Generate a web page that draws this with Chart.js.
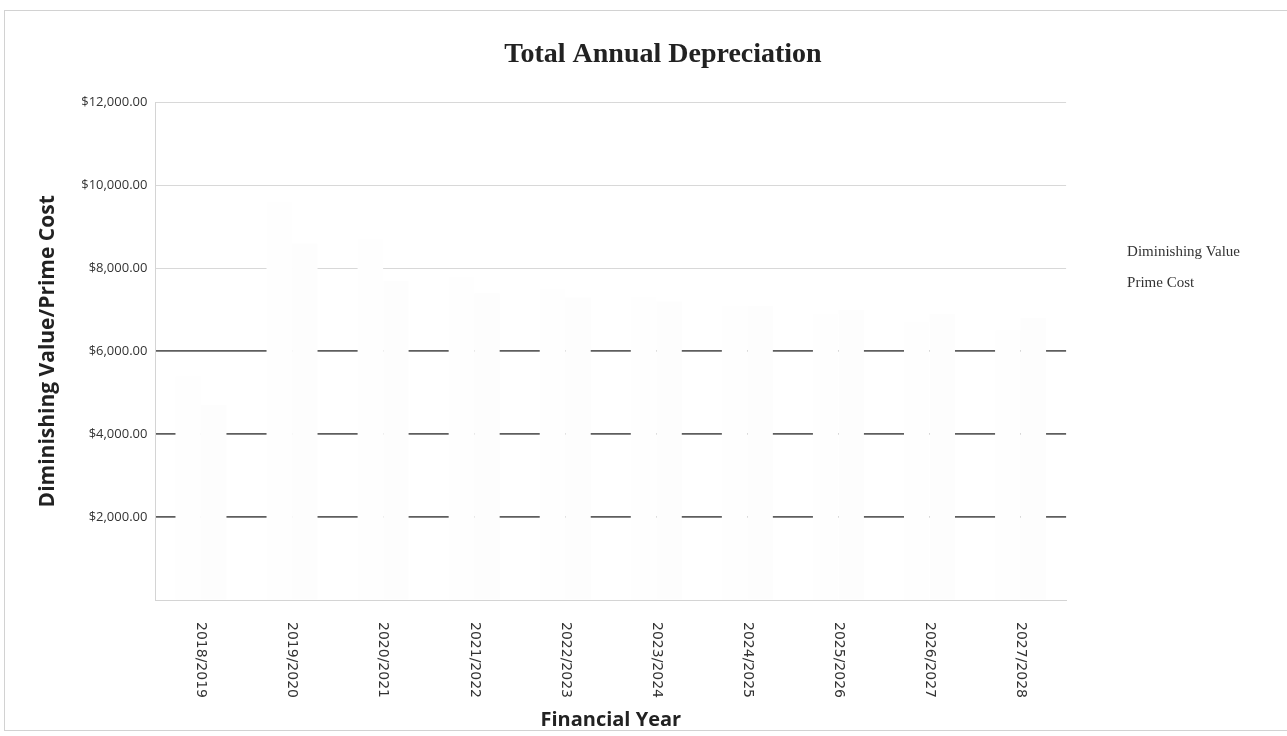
<!DOCTYPE html>
<html lang="en">
<head>
  <meta charset="UTF-8" />
  <title>Total Annual Depreciation</title>
  <script src="https://cdn.jsdelivr.net/npm/chart.js"></script>
  <style>
    body { margin: 0; background: #fff; overflow: hidden; }
    /* moldura cinza clara do grafico (sai pela direita como no scan) */
    .frame {
      position: absolute; left: 4px; top: 10px;
      width: 1330px; height: 719px;
      border: 1px solid #d2d2d2;
    }
    .chart-wrapper {
      position: absolute; left: 0; top: 0;
      width: 1327px; height: 736px;
    }
  </style>
</head>
<body>
<div class="frame"></div>
<div class="chart-wrapper">
  <canvas id="deprChart"></canvas>
</div>

<script>
  const anos = ['2018/2019', '2019/2020', '2020/2021', '2021/2022', '2022/2023',
                '2023/2024', '2024/2025', '2025/2026', '2026/2027', '2027/2028'];
  const diminishingValue = [5400, 9600, 8700, 7800, 7500, 7300, 7100, 6900, 6700, 6500];
  const primeCost = [4700, 8600, 7700, 7400, 7300, 7200, 7100, 7000, 6900, 6800];
  const yTicks = [0, 2000, 4000, 6000, 8000, 10000, 12000];

  const fmt = v => '$' + v.toLocaleString('en-US', { minimumFractionDigits: 2, maximumFractionDigits: 2 });

  // rotulos do eixo x girados no sentido horario (Chart.js so gira anti-horario)
  const rotuloHorario = {
    id: 'rotuloHorario',
    afterDraw(chart) {
      const x = chart.scales.x;
      const ctx = chart.ctx;
      ctx.save();
      ctx.fillStyle = '#333';
      ctx.font = '14px "DejaVu Sans"';
      ctx.textAlign = 'left';
      ctx.textBaseline = 'middle';
      anos.forEach((txt, i) => {
        ctx.save();
        ctx.translate(x.getPixelForTick(i), x.top + 22);
        ctx.rotate(Math.PI / 2);
        ctx.fillText(txt, 0, 0);
        ctx.restore();
      });
      ctx.restore();
    }
  };

  const dataDepr = {
    labels: anos,
    datasets: [{
      label: 'Diminishing Value',
      data: diminishingValue,
      backgroundColor: '#fefefe',
      borderWidth: 0
    }, {
      label: 'Prime Cost',
      data: primeCost,
      backgroundColor: '#fdfdfd',
      borderWidth: 0
    }]
  };

  const configDepr = {
    type: 'bar',
    data: dataDepr,
    plugins: [rotuloHorario],
    options: {
      responsive: true,
      maintainAspectRatio: false,
      animation: false,
      layout: { padding: { top: 38, left: 35, right: 36, bottom: 4 } },
      datasets: { bar: { categoryPercentage: 0.56, barPercentage: 1.0 } },
      plugins: {
        title: {
          display: true,
          text: 'Total Annual Depreciation',
          color: '#222',
          font: { family: '"Liberation Serif"', size: 28, weight: 'bold' },
          padding: { top: 0, bottom: 31 }
        },
        legend: {
          position: 'right',
          align: 'start',
          title: { display: true, text: '', padding: { top: 0, bottom: 176 } },
          labels: {
            color: '#333',
            font: { family: '"Liberation Serif"', size: 15 },
            boxWidth: 37.5,
            boxHeight: 0,
            padding: 16,
            generateLabels: chart => chart.data.datasets.map((ds, i) => ({
              text: ds.label,
              fillStyle: 'rgba(0,0,0,0)',
              strokeStyle: 'rgba(0,0,0,0)',
              lineWidth: 0,
              hidden: false,
              datasetIndex: i,
              fontColor: '#333'
            }))
          }
        },
        tooltip: { enabled: false }
      },
      scales: {
        x: {
          grid: { display: false, drawTicks: false },
          border: { display: true, color: '#d4d4d4' },
          ticks: {
            color: 'rgba(0,0,0,0)',
            font: { family: '"DejaVu Sans"', size: 14 },
            minRotation: 90,
            maxRotation: 90,
            padding: 14
          },
          title: {
            display: true,
            text: 'Financial Year',
            color: '#222',
            font: { family: '"Open Sans"', size: 20, weight: 'bold' },
            padding: { top: 4, bottom: 0 }
          }
        },
        y: {
          min: 0,
          max: 12000,
          afterBuildTicks: axis => { axis.ticks = yTicks.map(v => ({ value: v })); },
          grid: {
            drawTicks: false,
            color: c => (c.tick && c.tick.value > 0 && c.tick.value <= 6000) ? '#5e5e5e' : '#d8d8d8',
            lineWidth: c => (c.tick && c.tick.value > 0 && c.tick.value <= 6000) ? 1.8 : 1
          },
          border: { display: true, color: '#d4d4d4' },
          ticks: {
            color: '#333',
            font: { family: '"Open Sans"', size: 13 },
            padding: 8,
            callback: v => v === 0 ? '' : fmt(v)
          },
          title: {
            display: true,
            text: 'Diminishing Value/Prime Cost',
            color: '#222',
            font: { family: '"Open Sans"', size: 21, weight: 'bold' },
            padding: { top: 0, bottom: 13 }
          }
        },
        // espaco vazio a direita da legenda, so para centrar o titulo como no original
        margem: {
          position: 'right',
          weight: 1500,
          grid: { display: false, drawTicks: false },
          border: { display: false },
          ticks: { display: false },
          title: { display: true, text: '', font: { size: 10 }, padding: { top: 0, bottom: 29 } }
        }
      }
    }
  };

  const ctx = document.getElementById('deprChart').getContext('2d');
  new Chart(ctx, configDepr);
</script>
</body>
</html>
